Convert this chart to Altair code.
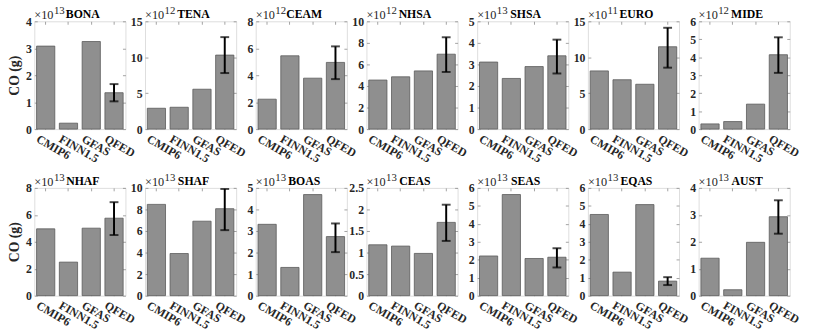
import altair as alt
import pandas as pd

# Emission sources compared in every region
sources = ["CMIP6", "FINN1.5", "GFAS", "QFED"]

# Regions, laid out in two rows of seven panels
regions = ["BONA", "TENA", "CEAM", "NHSA", "SHSA", "EURO", "MIDE",
           "NHAF", "SHAF", "BOAS", "CEAS", "SEAS", "EQAS", "AUST"]

# Power of ten shown above each panel, y-axis upper limit and tick step
exponents = [13, 12, 12, 12, 13, 11, 12,
             13, 13, 13, 13, 13, 13, 13]
y_max = [4, 15, 8, 10, 5, 15, 6,
         8, 10, 5, 2.5, 6, 6, 4]
y_step = [1, 5, 2, 2, 1, 5, 1,
          2, 2, 1, 0.5, 1, 1, 1]

# Total CO emission (mantissa, g) per source
cmip6 = [3.08, 2.90, 2.22, 4.55, 3.11, 8.10, 0.29,
         4.96, 8.47, 3.31, 1.18, 2.21, 4.52, 1.39]
finn15 = [0.22, 3.04, 5.44, 4.85, 2.35, 6.87, 0.42,
          2.49, 3.91, 1.31, 1.15, 5.63, 1.31, 0.22]
gfas = [3.25, 5.55, 3.78, 5.40, 2.90, 6.24, 1.39,
        5.01, 6.91, 4.69, 0.98, 2.07, 5.07, 1.98]
qfed = [1.35, 10.30, 4.95, 6.95, 3.40, 11.46, 4.14,
        5.75, 8.07, 2.74, 1.70, 2.14, 0.81, 2.93]

# QFED uncertainty range
qfed_low = [1.03, 7.80, 3.71, 5.30, 2.58, 8.55, 3.13,
            4.50, 6.08, 2.02, 1.27, 1.57, 0.59, 2.30]
qfed_high = [1.67, 12.80, 6.14, 8.52, 4.15, 14.10, 5.11,
             6.94, 9.90, 3.35, 2.11, 2.64, 1.03, 3.54]

FONT = "Liberation Serif"
BOX = "#a0a0a0"
TXT = "#262626"
W, H = 93, 110


def panel(i, ylabel):
    top, step = y_max[i], y_step[i]
    n = int(round(top / step))
    ticks = [round(k * step, 4) for k in range(n + 1)]

    bars_df = pd.DataFrame({"source": sources,
                            "value": [cmip6[i], finn15[i], gfas[i], qfed[i]]})
    err_df = pd.DataFrame({"source": ["QFED"], "lo": [qfed_low[i]], "hi": [qfed_high[i]]})
    head_df = pd.DataFrame({"region": [regions[i]], "exp": [str(exponents[i])]})

    xs = alt.Scale(domain=sources, paddingInner=0.2, paddingOuter=0.1)
    ys = alt.Scale(domain=[0, top], nice=False, zero=True)
    # inward ticks: axis pulled 3 px inside the frame, ticks pointing out to the frame
    tick_style = dict(domain=False, grid=False, tickSize=3, offset=-3,
                      tickColor="#8a8a8a", tickWidth=0.8)
    label_style = dict(labelFont=FONT, labelFontSize=12, labelFontWeight="bold",
                       labelColor=TXT)

    if ylabel:
        title_style = dict(title=ylabel, titleFont=FONT, titleFontSize=14,
                           titleFontWeight="bold", titleColor=TXT, titleAngle=-90,
                           titleX=-23, titleY=H / 2, titleAlign="center",
                           titleBaseline="middle")
    else:
        title_style = dict(title=None)
    y_axis = alt.Axis(orient="left", values=ticks,
                      labelExpr="format(datum.value, '~g')", labelPadding=3,
                      **label_style, **title_style, **tick_style)

    bars = alt.Chart(bars_df).mark_bar(
        fill="#8f8f8f", stroke="#5a5a5a", strokeWidth=0.8
    ).encode(
        x=alt.X("source:N", scale=xs, sort=sources,
                axis=alt.Axis(orient="bottom", title=None, labelAngle=30,
                              labelAlign="left", labelBaseline="top",
                              labelPadding=4, labelOffset=-6,
                              **label_style, **tick_style)),
        y=alt.Y("value:Q", scale=ys, axis=y_axis),
    )

    rule = alt.Chart(err_df).mark_rule(color="black", strokeWidth=2).encode(
        x=alt.X("source:N", scale=xs, sort=sources,
                axis=alt.Axis(orient="top", title=None, labels=False, **tick_style)),
        y=alt.Y("lo:Q", scale=ys,
                axis=alt.Axis(orient="right", title=None, labels=False,
                              values=ticks, **tick_style)),
        y2="hi:Q",
    )
    cap_lo = alt.Chart(err_df).mark_tick(color="black", thickness=2, size=9).encode(
        x=alt.X("source:N", scale=xs, sort=sources, axis=None),
        y=alt.Y("lo:Q", scale=ys, axis=None),
    )
    cap_hi = alt.Chart(err_df).mark_tick(color="black", thickness=2, size=9).encode(
        x=alt.X("source:N", scale=xs, sort=sources, axis=None),
        y=alt.Y("hi:Q", scale=ys, axis=None),
    )

    times10 = alt.Chart(head_df).mark_text(
        text="×10", align="left", baseline="alphabetic",
        font=FONT, fontSize=12.5, color=TXT
    ).encode(x=alt.value(0), y=alt.value(-2))
    power = alt.Chart(head_df).mark_text(
        align="left", baseline="alphabetic", font=FONT, fontSize=11, color=TXT
    ).encode(x=alt.value(20), y=alt.value(-7.5), text="exp:N")
    name = alt.Chart(head_df).mark_text(
        align="center", baseline="alphabetic", font=FONT, fontSize=12,
        fontWeight="bold", color="black"
    ).encode(x=alt.value(W / 2 + 3), y=alt.value(-3), text="region:N")

    return alt.layer(bars, rule, cap_lo, cap_hi, times10, power, name).resolve_axis(
        x="independent", y="independent"
    ).properties(width=W, height=H)


panels = [panel(i, "CO (g)" if i in (0, 7) else None) for i in range(14)]

chart = alt.concat(
    *panels, columns=7, spacing={"row": 60, "column": 20}, bounds="flush"
).properties(
    padding={"left": 7, "top": 1, "right": 25, "bottom": 30}
).configure_view(stroke=BOX, strokeWidth=1).configure(background="white")

chart.save("out.html", embed_options={"renderer": "svg", "actions": False})
